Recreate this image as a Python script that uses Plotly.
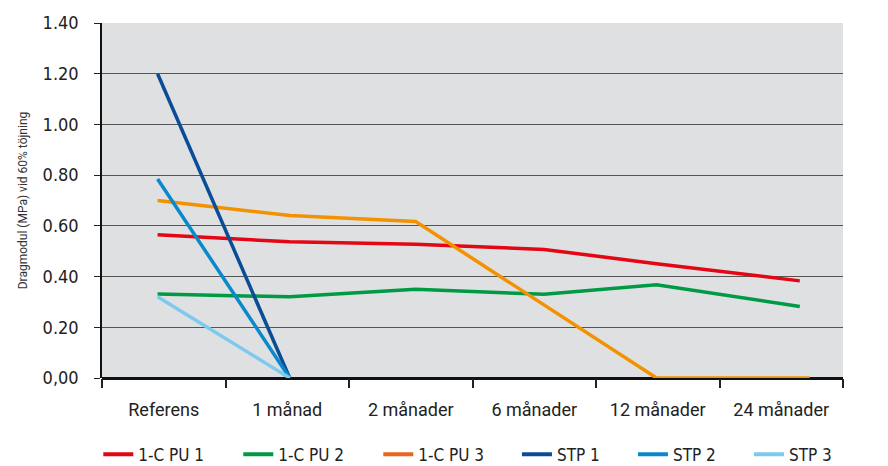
import plotly.graph_objects as go

categories = ["Referens", "1 månad", "2 månader", "6 månader", "12 månader", "24 månader"]
x_pos = [-0.05, 1.02, 2.04, 3.08, 3.99, 5.15]
x_pos_pu3 = [-0.05, 1.02, 2.04, 3.08, 3.99, 5.23]

pu1 = [0.565, 0.537, 0.527, 0.507, 0.451, 0.383]
pu2 = [0.331, 0.320, 0.350, 0.330, 0.368, 0.282]
pu3 = [0.700, 0.641, 0.617, 0.290, 0.0, 0.0]
stp1 = [1.20, 0.0]
stp2 = [0.785, 0.0]
stp3 = [0.320, 0.0]

y_ticks = [0, 0.2, 0.4, 0.6, 0.8, 1.0, 1.2, 1.4]
y_ticktext = ["0,00", "0.20", "0.40", "0.60", "0.80", "1.00", "1.20", "1.40"]

series = [
    ("1-C PU 1", x_pos, pu1, "#E30613", "#E30613", "legend"),
    ("1-C PU 2", x_pos, pu2, "#009A44", "#009A44", "legend"),
    ("1-C PU 3", x_pos_pu3, pu3, "#F39200", "#E9641E", "legend"),
    ("STP 1", x_pos[:2], stp1, "#0A4C95", "#0A4C95", "legend2"),
    ("STP 2", x_pos[:2], stp2, "#0A88CC", "#0A88CC", "legend2"),
    ("STP 3", x_pos[:2], stp3, "#7CCBEF", "#7CCBEF", "legend2"),
]

fig = go.Figure()
for name, xs, ys, col, _, _ in series:
    fig.add_trace(go.Scatter(x=xs, y=ys, mode="lines", name=name, showlegend=False,
                             line=dict(color=col, width=3.5), cliponaxis=False))
for name, xs, ys, _, lcol, lg in series:
    fig.add_trace(go.Scatter(x=[None], y=[None], mode="lines", name=name, legend=lg,
                             line=dict(color=lcol, width=4)))

LFONT = "DejaVu Sans Condensed, Roboto, sans-serif"
leg_common = dict(orientation="h", yref="container", y=0.024, yanchor="middle",
                  xanchor="left", font=dict(size=17, family=LFONT, color="#222"),
                  itemwidth=30, bgcolor="rgba(0,0,0,0)", entrywidthmode="pixels")

fig.update_layout(
    width=888, height=466,
    margin=dict(l=102, r=45, t=20, b=88),
    paper_bgcolor="white",
    plot_bgcolor="#DFE0E2",
    font=dict(family="Roboto", color="#222", size=16),
    legend=dict(x=-0.005, entrywidth=95, **leg_common),
    legend2=dict(x=0.56, entrywidth=71, **leg_common),
    xaxis=dict(
        range=[-0.5, 5.5], tickmode="array", tickvals=list(range(6)), ticktext=categories,
        ticks="", showgrid=False, zeroline=False, showline=False,
        tickfont=dict(family="Roboto", size=18, color="#222"), ticklabelstandoff=19,
        minor=dict(tickmode="array", tickvals=[-0.5, 0.5, 1.5, 2.5, 3.5, 4.5, 5.5],
                   ticks="outside", ticklen=9, tickcolor="#222", tickwidth=1.5, showgrid=False),
        fixedrange=True,
    ),
    yaxis=dict(
        range=[0, 1.4], tickmode="array", tickvals=y_ticks, ticktext=y_ticktext,
        ticks="outside", ticklen=6, tickcolor="#222", tickwidth=1,
        showgrid=True, gridcolor="#555", gridwidth=1.2,
        zeroline=True, zerolinecolor="#111", zerolinewidth=2.5,
        showline=True, linecolor="#111", linewidth=1.5,
        tickfont=dict(family=LFONT, size=18, color="#222"), ticklabelstandoff=12,
        title=dict(text="Dragmodul (MPa) vid 60% töjning", font=dict(family="Roboto", size=12, color="#333"), standoff=12),
        fixedrange=True,
    ),
)

fig.write_html("out.html")
